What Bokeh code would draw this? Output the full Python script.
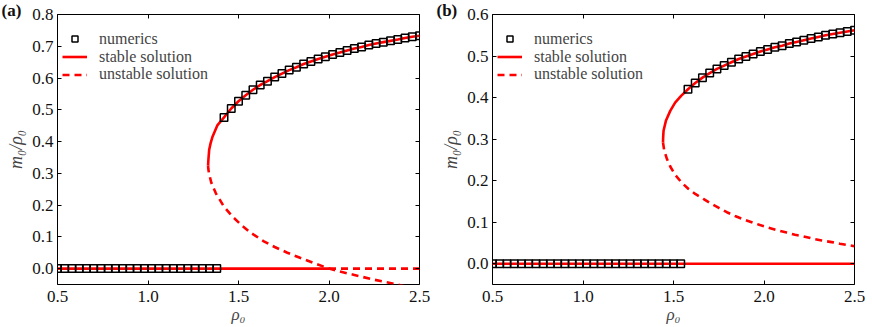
from bokeh.plotting import figure
from bokeh.layouts import row
from bokeh.models import (LinearAxis, FixedTicker, PrintfTickFormatter, Range1d,
                          Legend, LegendItem)
from bokeh.embed import file_html
from bokeh.resources import INLINE

FONT = "Liberation Serif"
RED = "#ff0000"

X_TICKS = [0.5, 1.0, 1.5, 2.0, 2.5]
LEGEND_LABELS = ["numerics", "stable solution", "unstable solution"]

# ---------------- panel (a) ----------------
a_y_ticks = [0.0, 0.1, 0.2, 0.3, 0.4, 0.5, 0.6, 0.7, 0.8]
a_num_low_rho = [0.50, 0.54, 0.58, 0.62, 0.66, 0.70, 0.74, 0.78, 0.82, 0.86, 0.90, 0.94,
                 0.98, 1.02, 1.06, 1.10, 1.14, 1.18, 1.22, 1.26, 1.30, 1.34, 1.38]
a_num_low_m = [0.0] * len(a_num_low_rho)
a_num_up_rho = [1.42, 1.46, 1.50, 1.54, 1.58, 1.62, 1.66, 1.70, 1.74, 1.78, 1.82, 1.86,
                1.90, 1.94, 1.98, 2.02, 2.06, 2.10, 2.14, 2.18, 2.22, 2.26, 2.30, 2.34,
                2.38, 2.42, 2.46, 2.50]
a_num_up_m = [0.476, 0.504, 0.527, 0.546, 0.563, 0.578, 0.590, 0.603, 0.614, 0.625, 0.634, 0.644,
              0.652, 0.660, 0.667, 0.674, 0.680, 0.687, 0.693, 0.698, 0.704, 0.709, 0.713, 0.717,
              0.721, 0.726, 0.730, 0.733]
a_fold_rho = [1.332, 1.333, 1.334, 1.338, 1.346, 1.357, 1.384]
a_fold_m = [0.325, 0.335, 0.345, 0.374, 0.395, 0.416, 0.452]
a_unst_rho = [1.332, 1.333, 1.337, 1.350, 1.375, 1.42, 1.47, 1.52, 1.57, 1.64, 1.70, 1.77,
              1.84, 1.92, 2.00, 2.05, 2.14, 2.25, 2.38, 2.42]
a_unst_m = [0.325, 0.315, 0.300, 0.270, 0.237, 0.195, 0.162, 0.135, 0.112, 0.086, 0.068, 0.050,
            0.034, 0.017, 0.000, -0.008, -0.020, -0.035, -0.050, -0.056]
a_zero_stable_rho = [0.5, 2.0]
a_zero_unstable_rho = [2.0, 2.5]

# ---------------- panel (b) ----------------
b_y_ticks = [0.0, 0.1, 0.2, 0.3, 0.4, 0.5, 0.6]
b_num_low_rho = [0.50, 0.54, 0.58, 0.62, 0.66, 0.70, 0.74, 0.78, 0.82, 0.86, 0.90, 0.94,
                 0.98, 1.02, 1.06, 1.10, 1.14, 1.18, 1.22, 1.26, 1.30, 1.34, 1.38, 1.42,
                 1.46, 1.50, 1.54]
b_num_low_m = [0.0] * len(b_num_low_rho)
b_num_up_rho = [1.58, 1.62, 1.66, 1.70, 1.74, 1.78, 1.82, 1.86, 1.90, 1.94, 1.98, 2.02,
                2.06, 2.10, 2.14, 2.18, 2.22, 2.26, 2.30, 2.34, 2.38, 2.42, 2.46, 2.50]
b_num_up_m = [0.420, 0.435, 0.448, 0.459, 0.469, 0.477, 0.485, 0.493, 0.499, 0.505, 0.511, 0.516,
              0.521, 0.525, 0.530, 0.534, 0.538, 0.542, 0.546, 0.550, 0.553, 0.556, 0.559, 0.562]
b_fold_rho = [1.442, 1.443, 1.445, 1.458, 1.482, 1.509, 1.542]
b_fold_m = [0.292, 0.305, 0.320, 0.344, 0.368, 0.388, 0.404]
b_unst_rho = [1.442, 1.449, 1.464, 1.482, 1.509, 1.546, 1.583, 1.620, 1.665, 1.702, 1.748, 1.795,
              1.840, 1.886, 1.932, 1.978, 2.024, 2.079, 2.125, 2.171, 2.217, 2.272, 2.319, 2.374,
              2.419, 2.475, 2.500]
b_unst_m = [0.292, 0.272, 0.252, 0.234, 0.214, 0.195, 0.180, 0.168, 0.156, 0.146, 0.135, 0.124,
            0.115, 0.107, 0.100, 0.093, 0.087, 0.080, 0.075, 0.070, 0.066, 0.060, 0.056, 0.052,
            0.048, 0.044, 0.042]
b_zero_stable_rho = [0.5, 2.5]


def make_panel(tag, ymax, yticks, num_low_rho, num_low_m, num_up_rho, num_up_m,
               fold_rho, fold_m, unst_rho, unst_m, zero_st_rho, zero_un_rho,
               width, border_left, border_right, tag_offset):
    p = figure(width=width, height=327, x_range=Range1d(0.5, 2.5),
               y_range=Range1d(-0.05, ymax), output_backend="svg",
               toolbar_location=None, min_border_left=border_left,
               min_border_right=border_right, min_border_top=14, min_border_bottom=43,
               title=tag)
    p.title.align = "left"
    p.title.offset = tag_offset
    p.title.standoff = -10
    p.title.text_font = FONT
    p.title.text_font_size = "17px"
    p.title.text_font_style = "bold"
    p.title.text_color = "#111111"

    p.xgrid.visible = False
    p.ygrid.visible = False
    p.outline_line_color = "black"
    p.outline_line_width = 1
    p.background_fill_color = "white"
    p.border_fill_color = "white"

    # extra axes that only carry the inward ticks on top and right
    top = LinearAxis(ticker=FixedTicker(ticks=X_TICKS),
                     major_label_overrides={t: "" for t in X_TICKS})
    right = LinearAxis(ticker=FixedTicker(ticks=yticks),
                       major_label_overrides={t: "" for t in yticks})
    p.add_layout(top, "above")
    p.add_layout(right, "right")
    p.below[0].ticker = FixedTicker(ticks=X_TICKS)
    p.left[0].ticker = FixedTicker(ticks=yticks)
    for ax in [p.below[0], p.left[0]]:
        ax.formatter = PrintfTickFormatter(format="%.1f")
    for ax in p.axis:
        ax.axis_line_color = None
        ax.major_tick_in = 4
        ax.major_tick_out = 0
        ax.major_tick_line_color = "black"
        ax.minor_tick_line_color = None
        ax.major_label_text_font = FONT
        ax.major_label_text_font_size = "17px"
        ax.major_label_text_color = "#111111"
    top.major_label_standoff = 0
    right.major_label_standoff = 0

    xb = p.below[0]
    xb.major_label_standoff = 6
    xb.axis_label = "ρ₀"
    xb.axis_label_text_font = FONT
    xb.axis_label_text_font_style = "italic"
    xb.axis_label_text_font_size = "17px"
    xb.axis_label_standoff = 0

    yl = p.left[0]
    yl.major_label_standoff = 4
    yl.axis_label = "m₀/ρ₀"
    yl.axis_label_text_font = FONT
    yl.axis_label_text_font_style = "italic"
    yl.axis_label_text_font_size = "18px"
    yl.axis_label_standoff = 3

    # analytic curves
    st1 = p.line(zero_st_rho, [0.0] * len(zero_st_rho), line_color=RED, line_width=2.6)
    p.line(fold_rho + num_up_rho, fold_m + num_up_m, line_color=RED, line_width=2.6)
    un1 = p.line(unst_rho, unst_m, line_color=RED, line_width=2.6, line_dash="7 5")
    if zero_un_rho:
        p.line(zero_un_rho, [0.0] * len(zero_un_rho), line_color=RED, line_width=2.6,
               line_dash="7 5")
    # numerics
    sq = p.scatter(num_low_rho + num_up_rho, num_low_m + num_up_m, marker="square", size=7.5,
                   fill_color=None, line_color="black", line_width=1.5)

    # one legend box per entry so that the rows sit as tightly as in the reference
    frame_h = 327 - 14 - 43
    row_centers = [24.2, 42, 59.8]          # px below the frame top
    for label, rend, c in zip(LEGEND_LABELS, [sq, st1, un1], row_centers):
        leg = Legend(items=[LegendItem(label=label, renderers=[rend])],
                     location=(5, frame_h - c - 9.6), margin=0, padding=0, spacing=0,
                     glyph_width=25, glyph_height=15, label_height=15, label_standoff=12,
                     label_text_font=FONT, label_text_font_size="16px",
                     background_fill_alpha=0, border_line_alpha=0)
        p.add_layout(leg)
    return p


pa = make_panel("(a)", 0.8, a_y_ticks, a_num_low_rho, a_num_low_m, a_num_up_rho, a_num_up_m,
                a_fold_rho, a_fold_m, a_unst_rho, a_unst_m, a_zero_stable_rho,
                a_zero_unstable_rho, 436, 57, 17, -56)
pb = make_panel("(b)", 0.6, b_y_ticks, b_num_low_rho, b_num_low_m, b_num_up_rho, b_num_up_m,
                b_fold_rho, b_fold_m, b_unst_rho, b_unst_m, b_zero_stable_rho,
                [], 436, 56, 18, -56)

layout = row(pa, pb)
open("out.html", "w").write(file_html(layout, INLINE))
